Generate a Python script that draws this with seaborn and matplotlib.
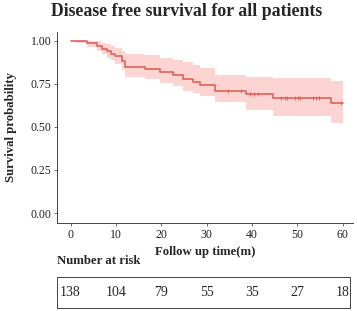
import numpy as np
import pandas as pd
import matplotlib
matplotlib.use("Agg")
import matplotlib.pyplot as plt
import seaborn as sns

# ---- data ----
times = [0, 1.5, 3.7, 5.9, 7.0, 8.1, 9.0, 9.9, 11.4, 12.1, 16.5, 19.8, 22.7, 24.9,
         27.0, 28.6, 31.9, 38.7, 44.6, 57.5, 60]
surv = [1.0, 0.995, 0.987, 0.967, 0.952, 0.938, 0.925, 0.909, 0.88, 0.847, 0.835,
        0.816, 0.80, 0.775, 0.76, 0.744, 0.709, 0.69, 0.667, 0.637, 0.637]
upper = [1.0, 1.0, 1.0, 0.995, 0.988, 0.978, 0.968, 0.955, 0.94, 0.925, 0.915,
         0.90, 0.89, 0.875, 0.86, 0.84, 0.80, 0.79, 0.783, 0.767, 0.767]
lower = [1.0, 0.985, 0.965, 0.94, 0.92, 0.90, 0.885, 0.865, 0.83, 0.79, 0.775,
         0.755, 0.735, 0.71, 0.695, 0.68, 0.645, 0.60, 0.565, 0.525, 0.525]
censor_times = [34.7, 37.6, 39.6, 40.4, 41.3, 46.5, 47.3, 47.8, 49.5, 50.2, 50.7,
                53.5, 54.2, 54.9, 59.6]
risk_times = [0, 10, 20, 30, 40, 50, 60]
risk_counts = [138, 104, 79, 55, 35, 27, 18]
y_ticks = [0.00, 0.25, 0.50, 0.75, 1.00]

title = "Disease free survival for all patients"
xlabel = "Follow up time(m)"
ylabel = "Survival probability"

sns.set_theme(style="white")
plt.rcParams["font.family"] = ["Liberation Serif", "DejaVu Serif"]

line_color = "#E0615B"
fill_color = "#F8766D"

df = pd.DataFrame({"time": times, "surv": surv, "upper": upper, "lower": lower})
idx = np.searchsorted(np.array(times), np.array(censor_times), side="right") - 1
cdf = pd.DataFrame({"time": censor_times, "surv": np.array(surv)[idx]})

fig = plt.figure(figsize=(3.57, 3.11), dpi=100)
ax = fig.add_axes([57 / 357, 1 - 223 / 311, 296 / 357, 191 / 311])

ax.fill_between(df["time"], df["lower"], df["upper"], step="post",
                color=fill_color, alpha=0.3, linewidth=0)
sns.lineplot(data=df, x="time", y="surv", ax=ax, color=line_color,
             drawstyle="steps-post", linewidth=1.2, estimator=None)
sns.scatterplot(data=cdf, x="time", y="surv", ax=ax, marker="|", color=line_color,
                s=12, linewidth=0.7)

ax.set_xlim(-3, 62.3)
ax.set_ylim(-0.058, 1.05)
ax.set_xticks(risk_times)
ax.set_yticks(y_ticks)
ax.set_yticklabels([f"{v:.2f}" for v in y_ticks])
ax.tick_params(axis="both", labelsize=8.5, length=2.5, width=0.6,
               color="#555555", labelcolor="#222222", pad=1.5,
               left=True, bottom=True)
for s in ["top", "right"]:
    ax.spines[s].set_visible(False)
for s in ["left", "bottom"]:
    ax.spines[s].set_color("#444444")
    ax.spines[s].set_linewidth(0.7)
ax.set_xlabel(xlabel, fontsize=9.2, fontweight="bold", labelpad=4)
ax.set_ylabel(ylabel, fontsize=9.2, fontweight="bold", labelpad=10)

fig.text(186.5 / 357, 1 - 11 / 311, title, ha="center", va="center",
         fontsize=12.8, fontweight="bold")
fig.text(57 / 357, 1 - 261 / 311, "Number at risk", ha="left", va="center",
         fontsize=9.2, fontweight="bold")

# risk table
tax = fig.add_axes([57 / 357, 1 - 308 / 311, 293 / 357, 31 / 311])
tax.set_xlim(-3, 61.6)
tax.set_ylim(0, 1)
for x, n in zip(risk_times, risk_counts):
    tax.text(x, 0.5, str(n), ha="center", va="center", fontsize=10)
tax.set_xticks([])
tax.set_yticks([])
for s in tax.spines.values():
    s.set_visible(True)
    s.set_color("#444444")
    s.set_linewidth(0.7)

fig.savefig("out.png", dpi=100)
